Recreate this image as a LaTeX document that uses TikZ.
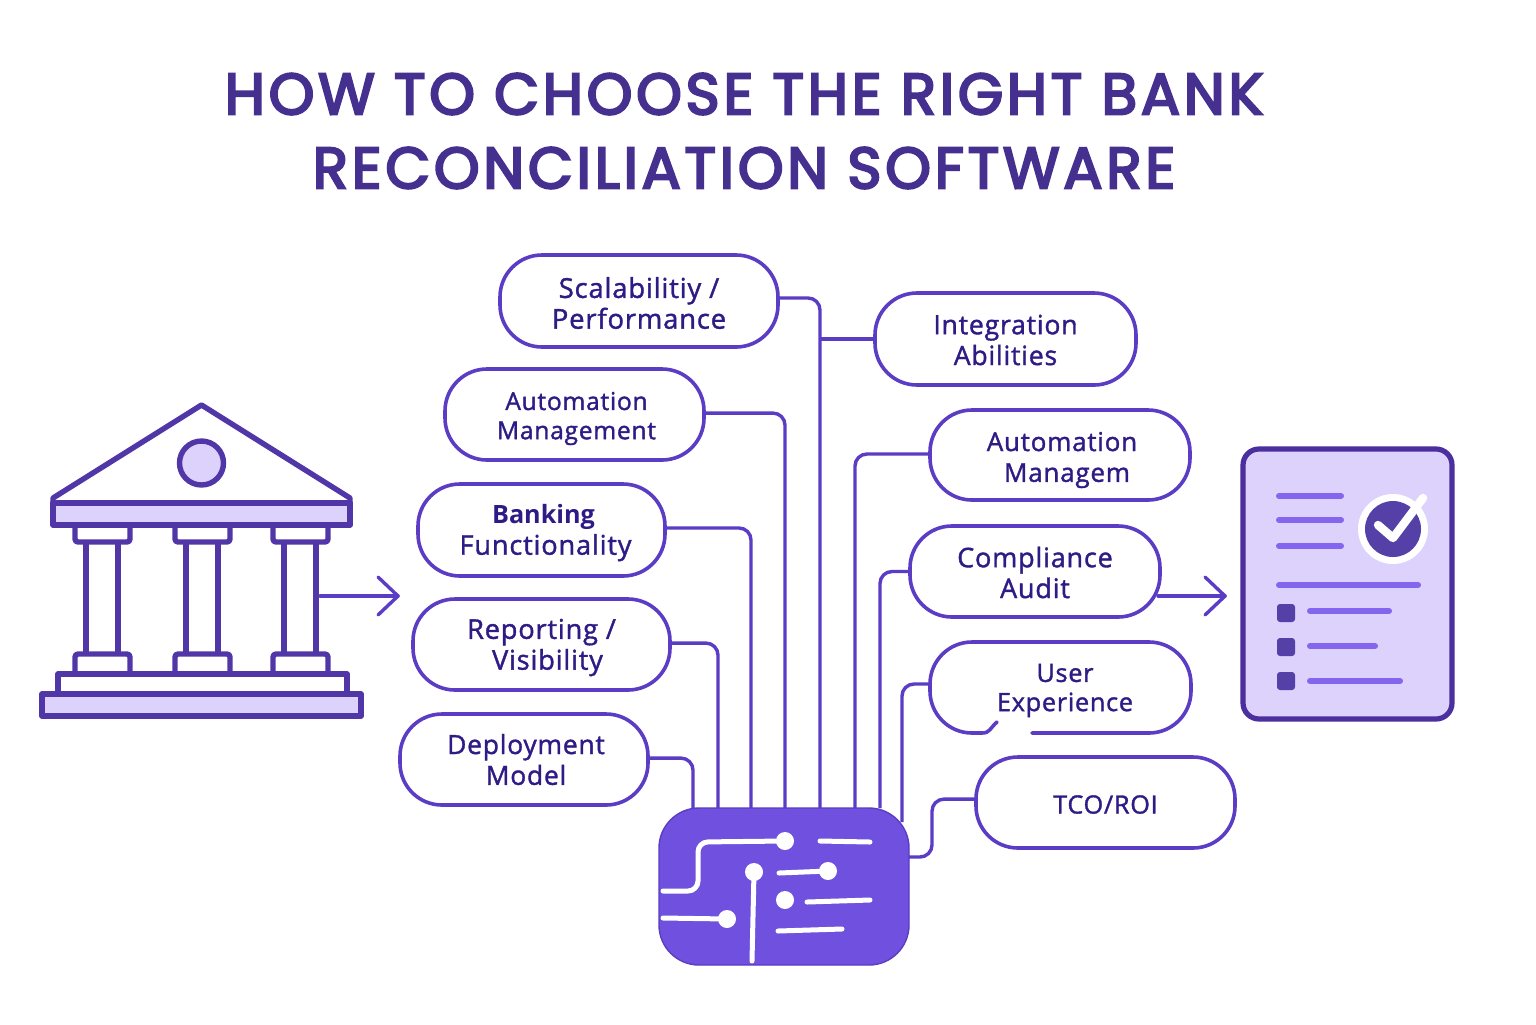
\documentclass[tikz,border=0pt]{standalone}
\usepackage{fontspec}
\setmainfont{Open Sans}
\newfontfamily\titlefont[LetterSpace=6.6,FakeBold=4]{Poppins}
\newfontfamily\bodyfont[LetterSpace=3,FakeBold=1.4]{Open Sans}
\newfontfamily\bodyboldfont[LetterSpace=0]{Open Sans}
\definecolor{titlec}{HTML}{45308F}
\definecolor{textc}{HTML}{2F1B85}
\definecolor{linec}{HTML}{5B3CC4}
\definecolor{bankc}{HTML}{5136A8}
\definecolor{lav}{HTML}{DDD2FC}
\definecolor{chipc}{HTML}{7050DE}
\definecolor{docedge}{HTML}{4B2F9E}
\definecolor{docline}{HTML}{8466EE}
\definecolor{docdark}{HTML}{5540A8}
\tikzset{
  pillbox/.style={draw=linec,line width=1.8pt,rounded corners=21pt,inner sep=0pt,outer sep=0pt},
  pilltext/.style={text=textc,align=center,inner sep=0pt,outer sep=0pt},
  conn/.style={draw=linec,line width=1.7pt,rounded corners=6pt},
  bankline/.style={draw=bankc,line width=2.7pt,line join=round},
  bigarrow/.style={draw=linec,line width=1.7pt,line cap=round,line join=round},
  chipline/.style={draw=white,line width=2.5pt,line cap=round},
  chipdot/.style={circle,fill=white,minimum size=9pt,inner sep=0pt},
  docbar/.style={draw=docline,line width=3pt,line cap=round},
  docsq/.style={fill=docdark,rounded corners=1.5pt},
}
% name, x1,y1,x2,y2, font size, baseline, text-dy, text
\newcommand{\pillnode}[9]{%
  \node[pillbox,minimum width={(#4-#2)*0.5pt},minimum height={(#5-#3)*0.5pt}] (#1) at ({(#2+#4)/2},{(#3+#5)/2}) {};
  \node[pilltext,font=\bodyfont\fontsize{#6}{#7}\selectfont] (#1text) at ({(#2+#4)/2},{(#3+#5)/2+#8}) {#9};}
\begin{document}
\begin{tikzpicture}[x=0.5pt,y=-0.5pt]
\useasboundingbox (0,0) rectangle (1536,1024);
\fill[white] (0,0) rectangle (1536,1024);
% title
\node[text=titlec,font=\titlefont\fontsize{29}{37}\selectfont,align=center,inner sep=0pt] (title) at (744,131) {HOW TO CHOOSE THE RIGHT BANK\\RECONCILIATION SOFTWARE};
% chip
\node[fill=chipc,draw=linec,line width=0.7pt,rounded corners=20pt,minimum width=125pt,minimum height=78.5pt,inner sep=0pt,outer sep=0pt] (chip) at (784,886.5) {};
\foreach \n/\x in {a/693,b/718,c/751,d/785,e/820,f/855,g/880}{\coordinate (port\n) at (\x,808);}
\coordinate (porth) at (902,822);
\coordinate (porti) at (909,857);
\coordinate (tcoj) at (932,828);
% pills
\pillnode{scal}{500}{255}{778}{347}{13.7}{15.4}{2}{Scalabilitiy /\\Performance}
\pillnode{integ}{875}{293}{1136}{385}{13.3}{15.4}{1}{Integration\\Abilities}
\pillnode{autol}{445}{369}{704}{460}{12.3}{14.6}{4}{\hspace*{2pt}Automation\\\hspace*{2pt}Management}
\pillnode{autor}{930}{410}{1190}{500}{13}{15.4}{5}{\hspace*{2pt}Automation\\\hspace*{7pt}Managem}
\pillnode{bank}{418}{484}{665}{576}{13.6}{15.4}{3}{\hspace*{2pt}{\bodyboldfont\bfseries\fontsize{12.6}{15.4}\selectfont Banking}\\\hspace*{4pt}Functionality}
\pillnode{comp}{910}{526}{1160}{617}{13.5}{15.4}{1}{Compliance\\Audit}
\pillnode{repo}{413}{599}{670}{690}{13.6}{15.4}{3}{Reporting /\\\hspace*{6pt}Visibility}
\node[pilltext,font=\bodyfont\fontsize{12.6}{14.6}\selectfont] (user) at (1065,690.5) {User\\Experience};
\coordinate (userw) at (930,684);
\draw[linec,line width=1.8pt,line cap=round,rounded corners=21pt] (1032,733) -- (1191,733) -- (1191,642) -- (930,642) -- (930,733) -- (982,733);
\draw[linec,line width=1.8pt,line cap=round] (982,733) .. controls (990,733) and (990,728) .. (997,722);
\pillnode{depl}{400}{714}{648}{805}{13.2}{15.4}{0}{\hspace*{2pt}Deployment\\\hspace*{2pt}Model}
\pillnode{tco}{976}{757}{1235}{848}{12.6}{15.4}{2}{TCO/ROI}
% connectors
\draw[conn] ([yshift=1.5pt]scal.east) -| (porte);
\draw[conn,rounded corners=0pt] (integ.west) -- (integ.west -| porte);
\draw[conn] ([yshift=0.7pt]autol.east) -| (portd);
\draw[conn] ([yshift=1pt]bank.east) -| (portc);
\draw[conn] ([yshift=0.7pt]repo.east) -| (portb);
\draw[conn] ([yshift=0.7pt]depl.east) -| (porta);
\draw[conn] ([yshift=0.5pt]autor.west) -| (portf);
\draw[conn] (comp.west) -| (portg);
\draw[conn] (userw) -| (porth);
\draw[conn] ([yshift=1.7pt]tco.west) -| (tcoj) |- (porti);
% chip art
\draw[chipline,rounded corners=5pt] (663,891) -- (698,891) -- (698,842) -- (785,841);
\node[chipdot] (d1) at (785,841) {};
\draw[chipline] (820,841) -- (870,842);
\node[chipdot] (d2) at (754,872) {};
\draw[chipline] (d2.center) -- (752,961);
\node[chipdot] (d3) at (828,871) {};
\draw[chipline] (779,873) -- (d3.center);
\node[chipdot] (d4) at (785,900) {};
\draw[chipline] (807,902) -- (870,900);
\node[chipdot] (d5) at (727,919) {};
\draw[chipline] (663,918) -- (d5.center);
\draw[chipline] (778,931) -- (842,929);
% bank
\draw[bankline] (53,498) -- (201.5,405) -- (350,498) -- (350,503) -- (53,503) -- cycle;
\draw[bankline,fill=lav] (53,503) rectangle (350,525);
\draw[bankline,fill=lav] (201.5,463) circle[radius=22];
\foreach \l in {75,175,273}{
  \draw[bankline,rounded corners=1.5pt] (\l,525) -- (\l,542) -- (\l+55,542) -- (\l+55,525);
  \draw[bankline] (\l+11,542) -- (\l+11,654);
  \draw[bankline] (\l+43,542) -- (\l+43,654);
  \draw[bankline,rounded corners=1.5pt] (\l,674) -- (\l,654) -- (\l+55,654) -- (\l+55,674);
}
\draw[bankline] (58,693) -- (58,674) -- (347,674) -- (347,693);
\draw[bankline,fill=lav] (42,694) rectangle (361,716);
% arrows
\coordinate (a1s) at (320,596); \coordinate (a1e) at (398,596);
\coordinate (a2s) at (1158,596); \coordinate (a2e) at (1225,596);
\draw[bigarrow] (a1s) -- (a1e);
\draw[bigarrow] (378,577) -- (a1e) -- (378,615);
\draw[bigarrow] (a2s) -- (a2e);
\draw[bigarrow] (1205,577) -- (a2e) -- (1205,615);
% document
\draw[draw=docedge,fill=lav,line width=2.6pt,rounded corners=8pt] (1243,449) rectangle (1452,719);
\foreach \xa/\xb/\yy in {1279/1341/496,1279/1341/520,1279/1341/546,1279/1418/585,1310/1389/611,1310/1375/646,1310/1400/681}{
  \draw[docbar] (\xa,\yy) -- (\xb,\yy);
}
\foreach \yy in {604,638,672}{
  \fill[docsq] (1277,\yy) rectangle (1295,\yy+18);
}
\fill[white] (1393,529) circle[radius=35];
\fill[docdark] (1393,529) circle[radius=28];
\draw[white,line width=4.2pt,line cap=round,line join=round] (1378,525) -- (1393,538) -- (1423,498);
\end{tikzpicture}
\end{document}
